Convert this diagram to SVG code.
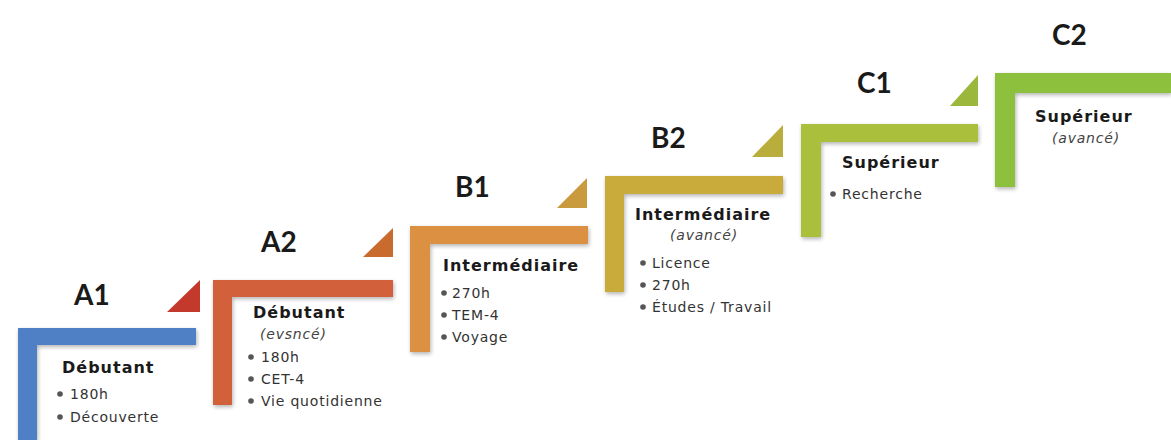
<svg xmlns="http://www.w3.org/2000/svg" width="1171" height="440" viewBox="0 0 1171 440">
<defs>
<filter id="sh" x="-10%" y="-10%" width="130%" height="130%">
<feGaussianBlur in="SourceAlpha" stdDeviation="2"/>
<feOffset dx="1" dy="2"/>
<feComponentTransfer><feFuncA type="linear" slope="0.3"/></feComponentTransfer>
<feMerge><feMergeNode/><feMergeNode in="SourceGraphic"/></feMerge>
</filter>
</defs>
<style>
.lbl{font-family:"Lato","Liberation Sans",sans-serif;font-weight:700;font-size:28px;fill:#1a1a1a}
.hd{font-family:"DejaVu Sans","Liberation Sans",sans-serif;font-weight:700;font-size:16px;letter-spacing:1px;fill:#1a1a1a}
.it{font-family:"DejaVu Sans","Liberation Sans",sans-serif;font-size:14px;letter-spacing:0.8px;fill:#333}
.em{font-family:"DejaVu Sans","Liberation Sans",sans-serif;font-style:italic;font-size:14px;letter-spacing:0.8px;fill:#444}
.bu{fill:#555}
</style>
<rect width="1171" height="440" fill="#ffffff"/>

<g id="A1">
<path d="M18 328 H196 V345 H37 V440 H18 Z" fill="#4f80c6" filter="url(#sh)"/>
<polygon points="200,280 200,312 167,312" fill="#c33a2c"/>
<text class="lbl" x="74" y="305">A1</text>
<text class="hd" x="62" y="373">Débutant</text>
<circle class="bu" cx="60" cy="394" r="2.8"/><text class="it" x="70" y="399">180h</text>
<circle class="bu" cx="60" cy="417" r="2.8"/><text class="it" x="70" y="422">Découverte</text>
</g>

<g id="A2">
<path d="M213 280 H393 V297 H232 V405 H213 Z" fill="#d2603a" filter="url(#sh)"/>
<polygon points="393,228 393,257 363,257" fill="#c96a2e"/>
<text class="lbl" x="261" y="252">A2</text>
<text class="hd" x="253" y="318">Débutant</text>
<text class="em" x="260" y="339">(evsncé)</text>
<circle class="bu" cx="251" cy="357" r="2.8"/><text class="it" x="261" y="362">180h</text>
<circle class="bu" cx="251" cy="379" r="2.8"/><text class="it" x="261" y="384">CET-4</text>
<circle class="bu" cx="251" cy="401" r="2.8"/><text class="it" x="261" y="406">Vie quotidienne</text>
</g>

<g id="B1">
<path d="M410 226 H588 V244 H430 V352 H410 Z" fill="#dc9042" filter="url(#sh)"/>
<polygon points="587,178 587,208 557,208" fill="#c99a3e"/>
<text class="lbl" x="455" y="197">B1</text>
<text class="hd" x="443" y="271">Intermédiaire</text>
<circle class="bu" cx="444" cy="293" r="2.8"/><text class="it" x="452" y="298">270h</text>
<circle class="bu" cx="444" cy="315" r="2.8"/><text class="it" x="452" y="320">TEM-4</text>
<circle class="bu" cx="444" cy="337" r="2.8"/><text class="it" x="452" y="342">Voyage</text>
</g>

<g id="B2">
<path d="M605 176 H783 V194 H624 V292 H605 Z" fill="#c9ab3a" filter="url(#sh)"/>
<polygon points="783,125 783,157 752,157" fill="#b9ae3c"/>
<text class="lbl" x="651" y="148">B2</text>
<text class="hd" x="635" y="220">Intermédiaire</text>
<text class="em" x="670" y="240">(avancé)</text>
<circle class="bu" cx="643" cy="263" r="2.8"/><text class="it" x="652" y="268">Licence</text>
<circle class="bu" cx="643" cy="285" r="2.8"/><text class="it" x="652" y="290">270h</text>
<circle class="bu" cx="643" cy="307" r="2.8"/><text class="it" x="652" y="312">Études / Travail</text>
</g>

<g id="C1">
<path d="M801 124 H978 V142 H821 V237 H801 Z" fill="#aac03e" filter="url(#sh)"/>
<polygon points="978,75 978,106 950,106" fill="#9cb83c"/>
<text class="lbl" x="857" y="93">C1</text>
<text class="hd" x="842" y="168">Supérieur</text>
<circle class="bu" cx="833" cy="194" r="2.8"/><text class="it" x="842" y="199">Recherche</text>
</g>

<g id="C2">
<path d="M995 73 H1171 V93 H1015 V187 H995 Z" fill="#8dc03e" filter="url(#sh)"/>
<text class="lbl" x="1052" y="45">C2</text>
<text class="hd" x="1035" y="122">Supérieur</text>
<text class="em" x="1052" y="143">(avancé)</text>
</g>

<g id="connectors"></g>
</svg>
